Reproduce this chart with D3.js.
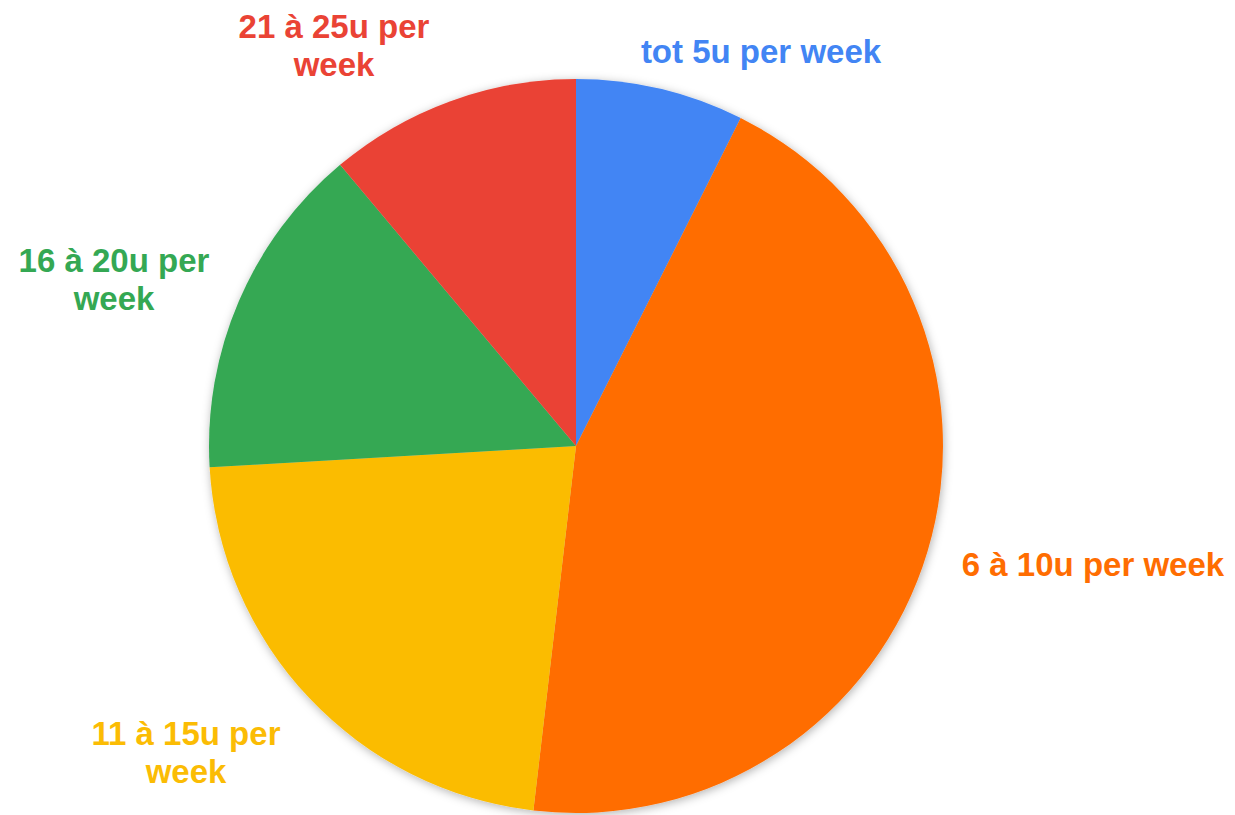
<!DOCTYPE html>
<html>
<head>
<meta charset="utf-8">
<script src="https://cdn.jsdelivr.net/npm/d3@7"></script>
<style>
  html, body { margin: 0; padding: 0; background: #ffffff; }
  svg { display: block; }
</style>
</head>
<body>
<svg id="chart" width="1235" height="815"></svg>
<script>
// ---- data ----
const categories = ["tot 5u per week", "6 à 10u per week", "11 à 15u per week", "16 à 20u per week", "21 à 25u per week"];
const values = [2, 12, 6, 4, 3];
const colors = ["#4285F4", "#FF6D01", "#FBBC04", "#34A853", "#EA4335"];
// label lines (wrapped as in the reference)
const labelLines = [
  ["tot 5u per week"],
  ["6 à 10u per week"],
  ["11 à 15u per", "week"],
  ["16 à 20u per", "week"],
  ["21 à 25u per", "week"]
];

// ---- layout ----
const W = 1235, H = 815;
const cx = 576, cy = 446, R = 367;
// label anchor (center x, first baseline y)
const labelPos = [[761, 63], [1093, 576], [186, 745], [114, 272], [334, 38]];
const lineHeight = 38;

const svg = d3.select("#chart");

const defs = svg.append("defs");
const f = defs.append("filter").attr("id", "shadow")
  .attr("x", "-10%").attr("y", "-10%").attr("width", "120%").attr("height", "120%");
f.append("feDropShadow").attr("dx", 1).attr("dy", 2).attr("stdDeviation", 5)
  .attr("flood-color", "#000").attr("flood-opacity", 0.3);

const pie = d3.pie().sort(null).value(d => d)
  .startAngle(0).endAngle(2 * Math.PI);
const arcs = pie(values);
const arc = d3.arc().innerRadius(0).outerRadius(R);

const g = svg.append("g").attr("transform", `translate(${cx},${cy})`)
  .attr("filter", "url(#shadow)");

g.selectAll("path").data(arcs).enter().append("path")
  .attr("d", arc)
  .attr("fill", (d, i) => colors[i]);

const labels = svg.append("g")
  .attr("font-family", "'Liberation Sans', Arial, sans-serif")
  .attr("font-weight", "bold")
  .attr("font-size", 33)
  .attr("text-anchor", "middle");

labelLines.forEach((lines, i) => {
  const t = labels.append("text")
    .attr("fill", colors[i])
    .attr("x", labelPos[i][0])
    .attr("y", labelPos[i][1]);
  lines.forEach((ln, j) => {
    t.append("tspan").attr("x", labelPos[i][0])
      .attr("y", labelPos[i][1] + j * lineHeight)
      .text(ln);
  });
});
</script>
</body>
</html>
